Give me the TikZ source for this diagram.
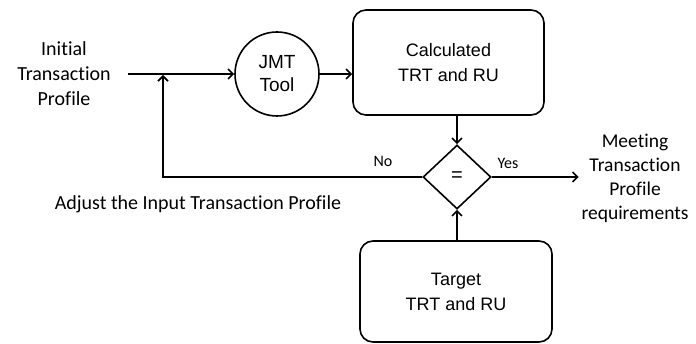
\documentclass[tikz,border=0pt]{standalone}
\usepackage{fontspec}
\setmainfont{Carlito}[Ligatures=CommonOff]
\newfontfamily\boxfont{Liberation Sans}
\usetikzlibrary{arrows.meta,shapes.geometric,positioning}

\begin{document}
\begin{tikzpicture}[x=1pt,y=-1pt,->,>={Straight Barb[length=5pt,width=10pt]},line width=1.6pt]
  \tikzstyle{every node}=[font=\fontsize{20}{25}\selectfont,align=center]
  \tikzstyle{tool}=[circle,draw,minimum size=84pt,inner sep=0pt,font=\boxfont\fontsize{19}{23}\selectfont]
  \tikzstyle{result}=[draw,rounded corners=13pt,inner sep=0pt,font=\boxfont\fontsize{18}{25}\selectfont]
  \tikzstyle{check}=[diamond,draw,minimum width=68pt,minimum height=64pt,inner sep=0pt,font=\boxfont\fontsize{20}{24}\selectfont]
  \tikzstyle{answer}=[font=\fontsize{16}{18}\selectfont]

  \useasboundingbox (0,0) rectangle (696,344);

  \node               (init)   at (64,74)    {Initial\\Transaction\\Profile};
  \node[tool]         (jmt)    at (277,74)   {JMT\\Tool};
  \node[result,minimum width=191pt,minimum height=105pt] (calc) at (448.5,62.5) {Calculated\\TRT and RU};
  \node[check]        (eq)     at (457,177)  {=};
  \node[result,minimum width=192pt,minimum height=101pt] (target) at (456,291.5) {Target\\TRT and RU};
  \node[font=\fontsize{19.5}{24}\selectfont,inner sep=2pt] (meet) at (635,178) {Meeting\\Transaction\\Profile\\requirements};
  \node               (adjust) at (198,204)  {Adjust the Input Transaction Profile};
  \coordinate         (join)   at (163,74);

  \draw[-]           ([xshift=13pt]init.east) -- (join);
  \draw              (join) -- (jmt.west);
  \draw              (jmt.east) -- (jmt -| calc.west);
  \draw              (eq |- calc.south) -- (eq.north);
  \draw              (eq |- target.north) -- (eq.south);
  \draw              (eq.west) -| ([yshift=-1pt]join);
  \draw              (eq.east) -- (eq -| meet.west);

  \node[answer]       (no)     at (383,161)  {No};
  \node[answer]       (yes)    at (508,163)  {Yes};
\end{tikzpicture}
\end{document}
